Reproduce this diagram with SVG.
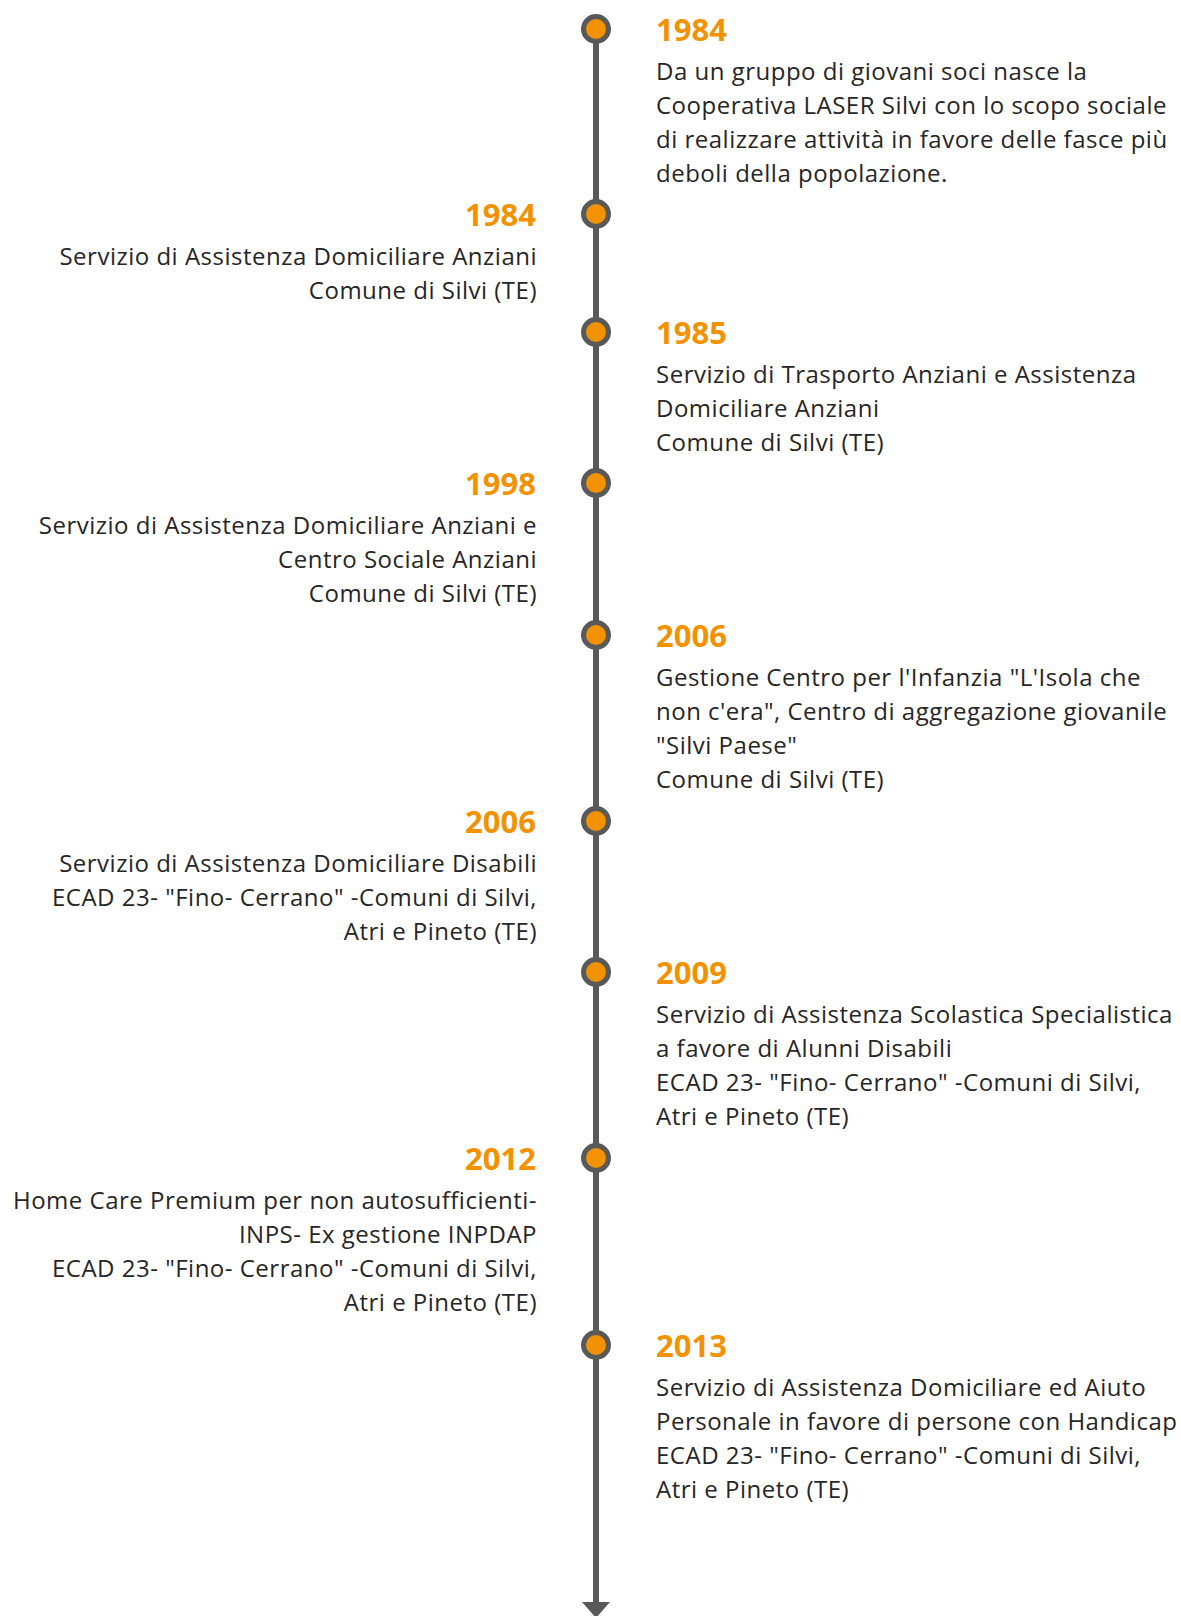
<svg xmlns="http://www.w3.org/2000/svg" width="1181" height="1616" viewBox="0 0 1181 1616">
<defs>
<style>
.dot{fill:#F39200;stroke:#595959;stroke-width:5}
.yr{font-family:"Open Sans","Noto Sans",sans-serif;font-weight:bold;font-size:31px;fill:#F39200}
.tx{font-family:"Open Sans","Noto Sans",sans-serif;font-size:24px;letter-spacing:0.5px;fill:#262626}
.l{text-anchor:end}
</style>
<marker id="arr" markerUnits="userSpaceOnUse" viewBox="0 0 16 28" markerWidth="16" markerHeight="28" refX="0" refY="14" orient="auto">
<path d="M0,0 L16,14 L0,28 Z" fill="#595959"/>
</marker>
</defs>
<rect width="1181" height="1616" fill="#ffffff"/>
<g id="connectors">
<line x1="596" y1="29" x2="596" y2="1602" stroke="#595959" stroke-width="6" marker-end="url(#arr)"/>
</g>
<g id="n1">
<circle class="dot" cx="596" cy="29" r="12.5"/>
<text class="yr" x="656" y="41">1984</text>
<text class="tx" x="656" y="80">Da un gruppo di giovani soci nasce la</text>
<text class="tx" x="656" y="114">Cooperativa LASER Silvi con lo scopo sociale</text>
<text class="tx" x="656" y="148">di realizzare attività in favore delle fasce più</text>
<text class="tx" x="656" y="182">deboli della popolazione.</text>
</g>
<g id="n2">
<circle class="dot" cx="596" cy="214" r="12.5"/>
<text class="yr l" x="536" y="226">1984</text>
<text class="tx l" x="537" y="265">Servizio di Assistenza Domiciliare Anziani</text>
<text class="tx l" x="537" y="299">Comune di Silvi (TE)</text>
</g>
<g id="n3">
<circle class="dot" cx="596" cy="332" r="12.5"/>
<text class="yr" x="656" y="344">1985</text>
<text class="tx" x="656" y="383">Servizio di Trasporto Anziani e Assistenza</text>
<text class="tx" x="656" y="417">Domiciliare Anziani</text>
<text class="tx" x="656" y="451">Comune di Silvi (TE)</text>
</g>
<g id="n4">
<circle class="dot" cx="596" cy="483" r="12.5"/>
<text class="yr l" x="536" y="495">1998</text>
<text class="tx l" x="537" y="534">Servizio di Assistenza Domiciliare Anziani e</text>
<text class="tx l" x="537" y="568">Centro Sociale Anziani</text>
<text class="tx l" x="537" y="602">Comune di Silvi (TE)</text>
</g>
<g id="n5">
<circle class="dot" cx="596" cy="635" r="12.5"/>
<text class="yr" x="656" y="647">2006</text>
<text class="tx" x="656" y="686">Gestione Centro per l'Infanzia "L'Isola che</text>
<text class="tx" x="656" y="720">non c'era", Centro di aggregazione giovanile</text>
<text class="tx" x="656" y="754">"Silvi Paese"</text>
<text class="tx" x="656" y="788">Comune di Silvi (TE)</text>
</g>
<g id="n6">
<circle class="dot" cx="596" cy="821" r="12.5"/>
<text class="yr l" x="536" y="833">2006</text>
<text class="tx l" x="537" y="872">Servizio di Assistenza Domiciliare Disabili</text>
<text class="tx l" x="537" y="906">ECAD 23- "Fino- Cerrano" -Comuni di Silvi,</text>
<text class="tx l" x="537" y="940">Atri e Pineto (TE)</text>
</g>
<g id="n7">
<circle class="dot" cx="596" cy="972" r="12.5"/>
<text class="yr" x="656" y="984">2009</text>
<text class="tx" x="656" y="1023">Servizio di Assistenza Scolastica Specialistica</text>
<text class="tx" x="656" y="1057">a favore di Alunni Disabili</text>
<text class="tx" x="656" y="1091">ECAD 23- "Fino- Cerrano" -Comuni di Silvi,</text>
<text class="tx" x="656" y="1125">Atri e Pineto (TE)</text>
</g>
<g id="n8">
<circle class="dot" cx="596" cy="1158" r="12.5"/>
<text class="yr l" x="536" y="1170">2012</text>
<text class="tx l" x="537" y="1209">Home Care Premium per non autosufficienti-</text>
<text class="tx l" x="537" y="1243">INPS- Ex gestione INPDAP</text>
<text class="tx l" x="537" y="1277">ECAD 23- "Fino- Cerrano" -Comuni di Silvi,</text>
<text class="tx l" x="537" y="1311">Atri e Pineto (TE)</text>
</g>
<g id="n9">
<circle class="dot" cx="596" cy="1345" r="12.5"/>
<text class="yr" x="656" y="1357">2013</text>
<text class="tx" x="656" y="1396">Servizio di Assistenza Domiciliare ed Aiuto</text>
<text class="tx" x="656" y="1430">Personale in favore di persone con Handicap</text>
<text class="tx" x="656" y="1464">ECAD 23- "Fino- Cerrano" -Comuni di Silvi,</text>
<text class="tx" x="656" y="1498">Atri e Pineto (TE)</text>
</g>
</svg>
